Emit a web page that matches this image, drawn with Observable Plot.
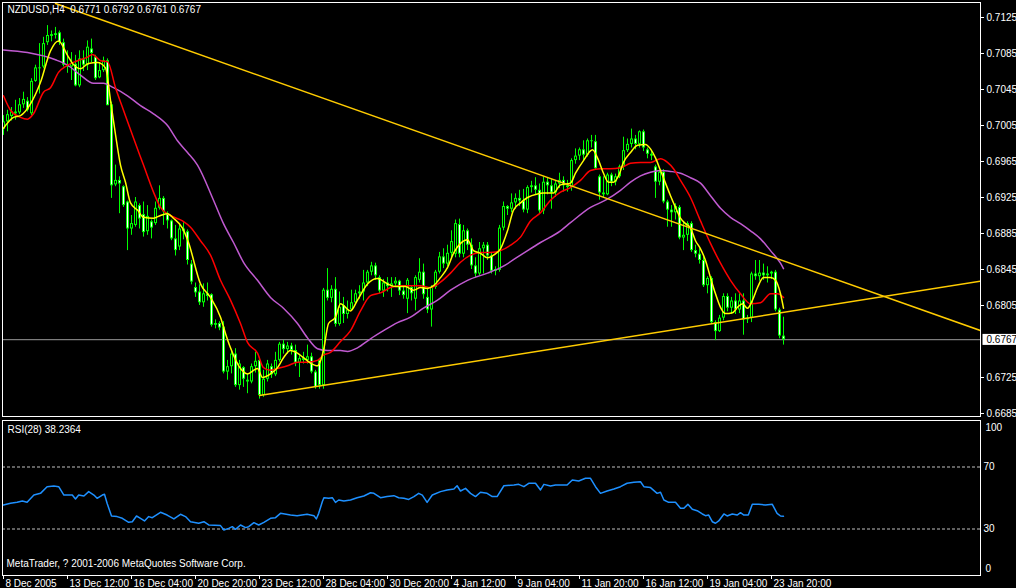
<!DOCTYPE html>
<html><head><meta charset="utf-8">
<script src="https://cdn.jsdelivr.net/npm/d3@7"></script>
<script src="https://cdn.jsdelivr.net/npm/@observablehq/plot@0.6"></script>
<style>
html,body{margin:0;padding:0;background:#000;}
#chart{position:relative;width:1016px;height:588px;background:#000;overflow:hidden;}
#chart svg{display:block;}
</style></head><body><div id="chart"></div>
<script>
const symbol = "NZDUSD", timeframe = "H4";
const rsiTitle = "RSI(28) 38.2364";
const copyright = "MetaTrader, ? 2001-2006 MetaQuotes Software Corp.";

// H4 candles, bar index 0..195
const open = [0.7001,0.7009,0.7015,0.7020,0.7019,0.7028,0.7032,0.7018,0.7054,0.7069,0.7070,0.7097,0.7104,0.7105,0.7108,0.7097,0.7072,0.7070,0.7073,0.7049,
0.7078,0.7072,0.7090,0.7081,0.7058,0.7066,0.7077,0.7028,0.6939,0.6944,0.6937,0.6920,0.6890,0.6894,0.6916,0.6906,0.6887,0.6898,0.6896,0.6913,
0.6924,0.6907,0.6899,0.6879,0.6870,0.6890,0.6887,0.6851,0.6825,0.6820,0.6808,0.6818,0.6817,0.6783,0.6785,0.6781,0.6731,0.6737,0.6751,0.6716,
0.6736,0.6722,0.6720,0.6737,0.6744,0.6705,0.6723,0.6737,0.6728,0.6744,0.6762,0.6756,0.6760,0.6755,0.6741,0.6746,0.6744,0.6748,0.6731,0.6744,
0.6716,0.6822,0.6813,0.6823,0.6784,0.6805,0.6795,0.6800,0.6808,0.6818,0.6820,0.6830,0.6842,0.6849,0.6836,0.6821,0.6830,0.6826,0.6829,0.6832,
0.6821,0.6812,0.6825,0.6812,0.6833,0.6842,0.6814,0.6800,0.6825,0.6842,0.6859,0.6851,0.6863,0.6862,0.6895,0.6862,0.6888,0.6872,0.6849,0.6840,
0.6868,0.6872,0.6860,0.6843,0.6844,0.6891,0.6915,0.6912,0.6919,0.6924,0.6921,0.6911,0.6936,0.6938,0.6933,0.6910,0.6942,0.6938,0.6930,0.6940,
0.6944,0.6938,0.6936,0.6966,0.6971,0.6978,0.6972,0.6988,0.6987,0.6948,0.6930,0.6928,0.6950,0.6942,0.6948,0.6959,0.6977,0.6984,0.6990,0.6984,
0.6998,0.6978,0.6973,0.6959,0.6942,0.6953,0.6920,0.6911,0.6908,0.6914,0.6880,0.6883,0.6896,0.6866,0.6862,0.6855,0.6827,0.6835,0.6786,0.6776,
0.6791,0.6815,0.6802,0.6810,0.6800,0.6810,0.6789,0.6791,0.6840,0.6837,0.6841,0.6838,0.6840,0.6842,0.6800,0.6771];
const high = [0.7016,0.7022,0.7025,0.7033,0.7035,0.7042,0.7036,0.7057,0.7072,0.7096,0.7103,0.7116,0.7110,0.7114,0.7110,0.7101,0.7088,0.7086,0.7083,0.7088,
0.7088,0.7099,0.7101,0.7083,0.7075,0.7081,0.7079,0.7031,0.6961,0.6948,0.6938,0.6921,0.6905,0.6925,0.6918,0.6920,0.6916,0.6900,0.6920,0.6938,
0.6926,0.6909,0.6900,0.6894,0.6894,0.6897,0.6889,0.6855,0.6830,0.6828,0.6829,0.6830,0.6818,0.6789,0.6787,0.6787,0.6744,0.6755,0.6757,0.6744,
0.6737,0.6729,0.6740,0.6753,0.6746,0.6733,0.6744,0.6740,0.6753,0.6764,0.6766,0.6764,0.6763,0.6761,0.6749,0.6753,0.6761,0.6752,0.6733,0.6746,
0.6824,0.6846,0.6827,0.6836,0.6820,0.6814,0.6810,0.6822,0.6822,0.6827,0.6844,0.6844,0.6853,0.6852,0.6838,0.6834,0.6836,0.6836,0.6836,0.6833,
0.6825,0.6835,0.6827,0.6838,0.6857,0.6851,0.6825,0.6827,0.6844,0.6864,0.6868,0.6872,0.6888,0.6900,0.6901,0.6894,0.6890,0.6879,0.6858,0.6875,
0.6875,0.6875,0.6864,0.6848,0.6894,0.6920,0.6916,0.6929,0.6929,0.6933,0.6934,0.6938,0.6943,0.6947,0.6940,0.6948,0.6947,0.6945,0.6943,0.6952,
0.6948,0.6944,0.6968,0.6979,0.6980,0.6988,0.6990,0.6994,0.6994,0.6950,0.6948,0.6952,0.6952,0.6951,0.6961,0.6992,0.6990,0.7001,0.6994,0.6999,
0.7000,0.6980,0.6976,0.6961,0.6955,0.6956,0.6922,0.6916,0.6918,0.6916,0.6898,0.6898,0.6898,0.6872,0.6868,0.6859,0.6837,0.6837,0.6788,0.6794,
0.6818,0.6818,0.6814,0.6818,0.6818,0.6818,0.6794,0.6842,0.6855,0.6855,0.6851,0.6848,0.6843,0.6844,0.6802,0.6792];
const low = [0.6994,0.6998,0.7010,0.7011,0.7017,0.7024,0.7020,0.7016,0.7053,0.7040,0.7068,0.7094,0.7098,0.7101,0.7094,0.7070,0.7063,0.7055,0.7048,0.7047,
0.7065,0.7066,0.7075,0.7055,0.7057,0.7064,0.7027,0.6924,0.6937,0.6907,0.6914,0.6866,0.6883,0.6892,0.6890,0.6881,0.6883,0.6879,0.6894,0.6911,
0.6894,0.6890,0.6877,0.6860,0.6866,0.6878,0.6850,0.6828,0.6814,0.6805,0.6803,0.6810,0.6781,0.6779,0.6777,0.6729,0.6722,0.6729,0.6714,0.6711,
0.6714,0.6707,0.6718,0.6730,0.6701,0.6703,0.6720,0.6724,0.6726,0.6742,0.6751,0.6751,0.6750,0.6737,0.6725,0.6740,0.6740,0.6729,0.6712,0.6712,
0.6712,0.6810,0.6808,0.6781,0.6782,0.6785,0.6790,0.6799,0.6806,0.6812,0.6810,0.6826,0.6838,0.6833,0.6818,0.6814,0.6820,0.6814,0.6825,0.6816,
0.6812,0.6796,0.6810,0.6799,0.6830,0.6812,0.6796,0.6781,0.6823,0.6840,0.6846,0.6848,0.6858,0.6858,0.6858,0.6858,0.6866,0.6845,0.6836,0.6838,
0.6840,0.6855,0.6840,0.6838,0.6842,0.6888,0.6905,0.6908,0.6912,0.6915,0.6908,0.6907,0.6930,0.6928,0.6906,0.6906,0.6928,0.6912,0.6925,0.6935,
0.6931,0.6931,0.6932,0.6962,0.6966,0.6966,0.6970,0.6980,0.6955,0.6922,0.6924,0.6927,0.6937,0.6938,0.6946,0.6955,0.6975,0.6980,0.6978,0.6980,
0.6976,0.6968,0.6966,0.6924,0.6938,0.6918,0.6892,0.6892,0.6900,0.6878,0.6866,0.6876,0.6864,0.6858,0.6851,0.6825,0.6818,0.6784,0.6766,0.6775,
0.6788,0.6798,0.6795,0.6795,0.6796,0.6772,0.6785,0.6786,0.6833,0.6832,0.6833,0.6830,0.6834,0.6798,0.6768,0.6761];
const close = [0.7009,0.7017,0.7020,0.7018,0.7028,0.7034,0.7022,0.7054,0.7069,0.7068,0.7096,0.7105,0.7106,0.7107,0.7097,0.7072,0.7070,0.7074,0.7049,0.7079,
0.7072,0.7092,0.7085,0.7057,0.7066,0.7077,0.7027,0.6938,0.6944,0.6940,0.6916,0.6890,0.6896,0.6920,0.6901,0.6886,0.6904,0.6891,0.6913,0.6924,
0.6909,0.6899,0.6879,0.6866,0.6890,0.6887,0.6855,0.6831,0.6819,0.6808,0.6818,0.6815,0.6783,0.6785,0.6780,0.6731,0.6737,0.6751,0.6716,0.6740,
0.6723,0.6720,0.6737,0.6743,0.6705,0.6723,0.6740,0.6728,0.6744,0.6762,0.6756,0.6760,0.6755,0.6741,0.6746,0.6744,0.6748,0.6731,0.6714,0.6716,
0.6822,0.6813,0.6823,0.6784,0.6803,0.6795,0.6800,0.6808,0.6818,0.6820,0.6830,0.6842,0.6849,0.6838,0.6821,0.6830,0.6826,0.6829,0.6832,0.6821,
0.6816,0.6833,0.6818,0.6836,0.6842,0.6817,0.6800,0.6825,0.6842,0.6859,0.6851,0.6863,0.6876,0.6896,0.6862,0.6888,0.6872,0.6849,0.6840,0.6868,
0.6872,0.6860,0.6843,0.6845,0.6891,0.6915,0.6912,0.6919,0.6924,0.6921,0.6911,0.6936,0.6938,0.6933,0.6910,0.6942,0.6938,0.6930,0.6940,0.6944,
0.6938,0.6936,0.6966,0.6971,0.6978,0.6972,0.6988,0.6987,0.6957,0.6930,0.6928,0.6950,0.6942,0.6948,0.6959,0.6977,0.6984,0.6990,0.6984,0.6998,
0.6980,0.6973,0.6971,0.6942,0.6953,0.6920,0.6911,0.6908,0.6915,0.6880,0.6883,0.6896,0.6866,0.6862,0.6855,0.6827,0.6835,0.6786,0.6776,0.6791,
0.6815,0.6802,0.6810,0.6800,0.6810,0.6789,0.6791,0.6840,0.6837,0.6841,0.6838,0.6840,0.6842,0.6800,0.6771,0.6767];

// Moving averages (bar index, price)
const maFastBar = [0,2.5,4.25,6.75,9.25,11.75,13.75,16,17.25,19.25,21.25,23.5,25.5,26.75,28,29.25,30.5,31.75,33.5,35,37.5,39.25,41,42.5,44.75,46.25,49.25,51.75,54.25,55.5,56.75,59.25,61,63.5,64.75,66.75,68.5,70,71.75,73.5,75,76.75,78.5,80,81.25,83,84.25,86.75,88.5,91,93.5,96,98,100.5,102.5,104.25,106,107.5,109.25,111,112.5,114.25,116,117.5,119.25,121,122.5,124.25,126,127.5,129.25,131,133.5,135,137.5,139.25,141.75,143,145,147.25,148.5,150,151.25,152.5,153.75,155,156.75,158.5,160.5,161.75,163,164.25,165.5,166.75,168,169.25,170.5,171.75,173,174.25,175.5,176.75,178,179.25,180.5,182.25,183.5,184.75,186,187.25,188.5,190,191.75,193,194.25,195];
const maFastVal = [0.7002,0.7014,0.7016,0.7029,0.7053,0.7088,0.7099,0.7083,0.7074,0.7068,0.7074,0.7075,0.7069,0.7033,0.6995,0.6961,0.6942,0.6919,0.6911,0.6903,0.6902,0.6905,0.6907,0.6902,0.6891,0.6875,0.6829,0.6814,0.6792,0.6774,0.6758,0.6735,0.6729,0.6735,0.6725,0.6729,0.6736,0.6747,0.6755,0.6752,0.6747,0.6741,0.6738,0.6755,0.6785,0.6792,0.6807,0.6799,0.6811,0.6829,0.6835,0.6829,0.6826,0.6826,0.6822,0.6825,0.6824,0.6827,0.6836,0.6847,0.6863,0.6874,0.6878,0.6866,0.6863,0.6858,0.6861,0.6868,0.6888,0.6911,0.6919,0.6925,0.6929,0.6930,0.6930,0.6939,0.6941,0.6952,0.6966,0.6978,0.6969,0.6952,0.6942,0.6942,0.6949,0.6964,0.6975,0.6983,0.6984,0.6979,0.6969,0.6955,0.6941,0.6927,0.6914,0.6902,0.6896,0.6891,0.6877,0.6868,0.6855,0.6836,0.6818,0.6803,0.6796,0.6797,0.6803,0.6807,0.6802,0.6811,0.6825,0.6836,0.6836,0.6833,0.6818,0.6802];
const maMidBar = [0,1.75,4.25,6,7.5,10,11.75,13.75,16,18.5,21,22.25,24.25,26,28,30,32.5,35,37.5,39.25,41.75,44.75,46.75,49.25,51.75,54.25,56.75,59.25,61,63.5,65,66.75,68.5,71,73.5,76,78.5,80,81.75,84.25,86.75,89.25,91.75,94.25,96.75,99.25,101.75,104.25,106.75,109.25,111.75,114.25,116.75,119.25,121.75,124.25,126.75,129.25,131.75,134.25,136.75,139.25,141.75,144.25,146.75,149.25,151.75,154.25,156.75,159.25,161.75,164.25,166,167.5,169.25,171.75,174.25,176.75,179.25,181.75,184.25,186.75,189.25,191.75,193.5,195];
const maMidVal = [0.7038,0.7022,0.7014,0.7012,0.7018,0.7042,0.7047,0.7064,0.7072,0.7077,0.7081,0.7084,0.7077,0.7076,0.7047,0.7022,0.6991,0.6961,0.6931,0.6914,0.6905,0.6899,0.6892,0.6877,0.6861,0.6833,0.6811,0.6785,0.6764,0.6752,0.6736,0.6733,0.6735,0.6738,0.6742,0.6742,0.6744,0.6750,0.6753,0.6765,0.6777,0.6799,0.6816,0.6819,0.6825,0.6827,0.6827,0.6827,0.6825,0.6831,0.6841,0.6853,0.6861,0.6864,0.6864,0.6866,0.6872,0.6881,0.6899,0.6908,0.6922,0.6931,0.6936,0.6944,0.6955,0.6957,0.6957,0.6958,0.6963,0.6964,0.6964,0.6968,0.6964,0.6957,0.6944,0.6925,0.6899,0.6874,0.6852,0.6833,0.6818,0.6807,0.6808,0.6818,0.6818,0.6814];
const maSlowBar = [0,6,13,16,19.25,22.5,25,27.5,31,34.25,37.5,41,43.5,46,48.5,52.5,55,57.5,60,63.5,66.75,70,73.5,76,78.5,81,84.25,86,88.5,91.75,95,98.5,101.75,105,108.5,111.75,116,121,124.25,129.25,134.25,139.25,141.75,146.75,150.5,154.25,156.75,159.25,161.75,164.25,166.75,169.25,171.75,174.25,176.75,179.25,181.75,184.25,186.75,189.25,191.75,194.25,195];
const maSlowVal = [0.7089,0.7086,0.7078,0.7072,0.7061,0.7052,0.7052,0.7047,0.7038,0.7027,0.7018,0.7005,0.6988,0.6975,0.6961,0.6922,0.6896,0.6875,0.6853,0.6833,0.6814,0.6802,0.6785,0.6769,0.6757,0.6755,0.6755,0.6754,0.6758,0.6768,0.6777,0.6786,0.6792,0.6802,0.6811,0.6822,0.6833,0.6841,0.6847,0.6861,0.6875,0.6888,0.6897,0.6914,0.6922,0.6933,0.6942,0.6949,0.6953,0.6955,0.6954,0.6952,0.6947,0.6941,0.6927,0.6913,0.6903,0.6896,0.6888,0.6879,0.6866,0.6852,0.6846];

// Trend lines (bar index, price)
const trendDownBar = [13, 244.25], trendDownVal = [0.71405, 0.67772];
const trendUpBar = [64, 244.25], trendUpVal = [0.6705, 0.6832];

// RSI(28)
const rsiBar = [0,1.75,3.4,4.7,5.9,7.6,9.25,10.9,12.6,13.8,15.1,17.2,18,18.8,20.1,21.3,22.6,23.4,24.7,25.25,25.9,27,28.4,29.7,31.3,32.2,33.25,34.25,35.25,36.3,37.2,39.25,40.9,42.6,44.25,45.5,46.75,48.8,50.1,51.3,54.25,55.1,56.3,57.2,58,59.25,60.5,61.3,62.6,63.8,65.1,66.75,68,69.25,71.75,73.4,75.9,77.6,78.2,78.8,79.7,80.1,81.3,82.2,83,83.8,85.1,86.75,88.4,90.1,91.75,92.6,94.25,95.9,97.6,98.8,100.1,101.3,102.6,103.8,104.7,105.9,107.2,109.25,110.9,112.6,113.4,114.25,115.5,116.75,118,119.25,120.9,122.2,123.4,125.1,127.6,128.8,130.1,131.3,133,134.25,135.1,136.75,138,140.9,142.2,143.8,145.5,146.75,148,149.25,150.9,152.6,154.25,155.9,157.6,159.25,160.1,161.75,163.4,164.25,165.1,166.3,168,169.25,170.1,171.1,172.2,173.4,174.7,175.5,176.3,177.2,178,178.8,180.1,180.9,182.2,183.4,184.25,185.1,186.2,187.2,188.8,190.5,192.2,193.4,194.25,195];
const rsiVal = [45.5,46.6,47.2,48.1,47.2,51.9,53.0,57.3,57.7,57.3,51.9,51.9,49.4,51.9,51.3,54.1,51.9,49.8,51.9,52.4,46.6,38.4,38.0,36.9,34.3,34.7,38.4,36.9,35.2,38.0,37.3,40.8,39.0,36.5,39.5,38.0,34.7,33.7,34.7,32.6,32.2,29.4,30.4,31.5,29.8,32.6,30.9,31.5,34.1,32.6,34.3,36.9,37.3,40.1,39.0,38.6,39.5,38.6,36.5,40.1,47.6,50.2,49.8,50.2,47.2,48.7,48.1,48.7,50.2,51.3,53.4,53.0,50.2,50.9,51.5,50.2,49.8,49.1,50.9,53.0,51.9,47.2,51.9,54.1,55.2,55.8,57.9,54.5,56.2,53.0,50.9,53.7,53.0,50.9,50.9,57.9,58.4,58.8,57.3,59.5,59.5,55.2,58.8,57.7,58.4,58.4,61.6,61.0,62.7,62.7,57.3,53.0,54.5,55.8,57.3,59.5,60.1,60.5,57.3,56.7,53.0,53.7,48.7,47.2,47.2,43.4,43.4,45.9,42.7,41.8,39.7,38.6,39.0,34.7,33.7,35.2,39.7,38.4,39.7,39.0,40.5,39.0,39.0,45.9,45.9,45.5,45.9,40.1,38.4,38.2];
const rsiLevels = [70, 30];
const rsiLabelTicks = [70, 30];
const rsiMaxLabel = ["100"], rsiMinLabel = ["0"];

// Axis ticks
const priceTicks = [0.7125,0.7085,0.7045,0.7005,0.6965,0.6925,0.6885,0.6845,0.6805,0.6725,0.6685];
const timeTickBars = [0,16,32,48,64,80,96,112,128,144,160,176,192];
const timeTickLabels = ["8 Dec 2005","13 Dec 12:00","16 Dec 04:00","20 Dec 20:00","23 Dec 12:00","28 Dec 04:00","30 Dec 20:00","4 Jan 12:00","9 Jan 04:00","11 Jan 20:00","16 Jan 12:00","19 Jan 04:00","23 Jan 20:00"];

// ---- build ----
const FONT = "'Liberation Sans', Arial, sans-serif";
const LIME = "#00ff00";
const f4 = d3.format(".4f");
const bars = open.map((o, i) => ({i, o, h: high[i], l: low[i], c: close[i]}));
const big = bars.filter(d => Math.abs(d.o - d.c) >= 0.00025);
const toPts = (bx, vx) => bx.map((b, k) => ({b, v: vx[k]}));
const last = bars[bars.length - 1];
const header = `${symbol},${timeframe} \u00a0${f4(last.o)} ${f4(last.h)} ${f4(last.l)} ${f4(last.c)}`;
const xDomain = [-0.25, 244.25];
const styleBase = {background: "#000", color: "#fff", fontFamily: FONT, fontSize: "10px"};

const main = Plot.plot({
  width: 1016, height: 418, marginTop: 2, marginBottom: 2, marginLeft: 2, marginRight: 36,
  style: styleBase,
  x: {domain: xDomain, axis: null},
  y: {domain: [0.668167, 0.714167], label: null},
  marks: [
    Plot.ruleY([last.c], {stroke: "#9a9a9a"}),
    Plot.ruleX(bars, {x: "i", y1: "l", y2: "h", stroke: LIME}),
    Plot.ruleX(bars, {x: "i", y1: d => Math.max(d.o, d.c), y2: d => Math.min(d.o, d.c), stroke: LIME, strokeWidth: 3}),
    Plot.ruleX(big.filter(d => d.c >= d.o), {x: "i", y1: "c", y2: "o", stroke: "#000", insetTop: 1, insetBottom: 1}),
    Plot.ruleX(big.filter(d => d.c < d.o), {x: "i", y1: "o", y2: "c", stroke: "#fff", insetTop: 1, insetBottom: 1}),
    Plot.line(toPts(maSlowBar, maSlowVal), {x: "b", y: "v", stroke: "#c05ad0", curve: "monotone-x"}),
    Plot.line(toPts(maMidBar, maMidVal), {x: "b", y: "v", stroke: "#ff0000", curve: "monotone-x"}),
    Plot.line(toPts(maFastBar, maFastVal), {x: "b", y: "v", stroke: "#ffff00", curve: "monotone-x"}),
    Plot.line(toPts(trendDownBar, trendDownVal), {x: "b", y: "v", stroke: "#ffcc00", clip: true}),
    Plot.line(toPts(trendUpBar, trendUpVal), {x: "b", y: "v", stroke: "#ffcc00", clip: true}),
    Plot.frame({stroke: "#fff"}),
    Plot.axisY({anchor: "right", ticks: priceTicks, tickFormat: f4, tickSize: 3, tickPadding: 3, label: null, fill: "#fff", stroke: "#fff"}),
    Plot.text([last.c], {y: d => d, text: d => f4(d), frameAnchor: "right", textAnchor: "start", dx: 6, fill: "#000"}),
    Plot.text([header], {text: d => d, frameAnchor: "top-left", dx: 5, dy: 3, textAnchor: "start", lineAnchor: "top", fill: "#fff"})
  ]
});

const rsiPts = toPts(rsiBar, rsiVal);
const tickLabelOf = new Map(timeTickBars.map((b, k) => [b, timeTickLabels[k]]));
const rsi = Plot.plot({
  width: 1016, height: 170, marginTop: 2, marginBottom: 13, marginLeft: 2, marginRight: 36,
  style: styleBase,
  x: {domain: xDomain, label: null},
  y: {domain: [0, 100], label: null},
  marks: [
    Plot.ruleY(rsiLevels, {stroke: "#c0c0c0", strokeDasharray: "3,2"}),
    Plot.line(rsiPts, {x: "b", y: "v", stroke: "#1e90ff"}),
    Plot.frame({stroke: "#fff"}),
    Plot.axisY({anchor: "right", ticks: rsiLabelTicks, tickSize: 0, tickPadding: 3, label: null, fill: "#fff"}),
    Plot.axisX({anchor: "bottom", ticks: timeTickBars, tickSize: 4, tickFormat: () => "", label: null, stroke: "#fff"}),
    Plot.axisX({anchor: "bottom", ticks: timeTickBars, tickSize: 0, tickPadding: 4, dx: 2, textAnchor: "start", tickFormat: d => tickLabelOf.get(d), label: null, fill: "#fff"}),
    Plot.text([rsiTitle], {text: d => d, frameAnchor: "top-left", dx: 5, dy: 5, textAnchor: "start", lineAnchor: "top", fill: "#fff"}),
    Plot.text([copyright], {text: d => d, frameAnchor: "bottom-left", dx: 4, dy: -9, textAnchor: "start", lineAnchor: "bottom", fill: "#fff"}),
    Plot.text(rsiMaxLabel, {text: d => d, frameAnchor: "top-right", textAnchor: "start", lineAnchor: "middle", dx: 5, dy: 7, fill: "#fff"}),
    Plot.text(rsiMinLabel, {text: d => d, frameAnchor: "bottom-right", textAnchor: "start", lineAnchor: "middle", dx: 5, dy: -7, fill: "#fff"})
  ]
});

const host = document.getElementById("chart");
host.appendChild(main);
host.appendChild(rsi);

// white box behind the current price label
const priceText = f4(last.c);
const lab = [...main.querySelectorAll("text")].find(t => t.textContent === priceText);
if (lab) {
  const bb = lab.getBBox();
  const r = document.createElementNS("http://www.w3.org/2000/svg", "rect");
  r.setAttribute("x", bb.x - 4);
  r.setAttribute("y", bb.y);
  r.setAttribute("width", bb.width + 12);
  r.setAttribute("height", bb.height);
  r.setAttribute("fill", "#fff");
  if (lab.getAttribute("transform")) r.setAttribute("transform", lab.getAttribute("transform"));
  lab.parentNode.insertBefore(r, lab);
}
</script></body></html>
